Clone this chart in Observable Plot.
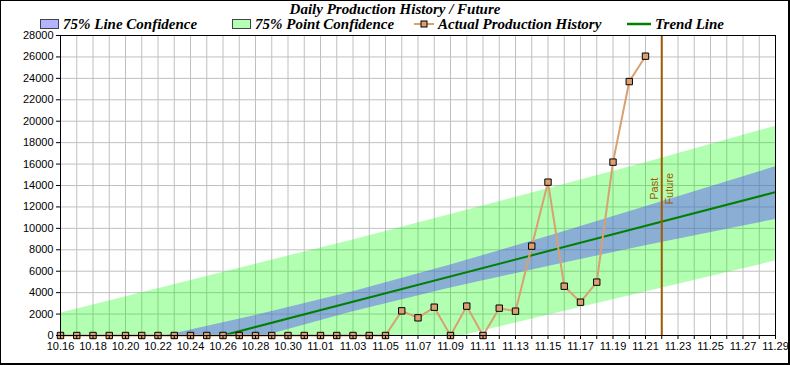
<!DOCTYPE html>
<html><head><meta charset="utf-8">
<script src="https://cdn.jsdelivr.net/npm/d3@7"></script>
<script src="https://cdn.jsdelivr.net/npm/@observablehq/plot@0.6"></script>
<style>
body{margin:0;background:#fff;}
#wrap{position:relative;width:790px;height:365px;overflow:hidden;background:#fff;}
#border{position:absolute;left:0;top:0;width:790px;height:365px;box-sizing:border-box;border:1px solid #000;border-right-width:2px;border-bottom-width:2px;pointer-events:none;}
#head{height:30px;position:relative;}
#title{position:absolute;left:0;width:790px;top:1px;text-align:center;font:italic bold 15px "Liberation Serif";white-space:nowrap;}
.leg{position:absolute;top:15px;height:18px;font:italic bold 15px "Liberation Sans Narrow";display:flex;align-items:center;white-space:nowrap;}
.sw{width:19px;height:10px;border:1px solid #444;margin-right:4px;box-sizing:border-box;}
.leg svg{margin-right:4px;}
</style></head>
<body>
<div id="wrap">
  <div id="head"></div>
  <div id="chart"></div>
  <div id="border"></div>
</div>
<script>
// ---------- data ----------
const year = 2023;
const chartTitle = "Daily Production History / Future";
const legendLabels = ["75% Line Confidence", "75% Point Confidence", "Actual Production History", "Trend Line"];
const productionDates = ["10.16","10.17","10.18","10.19","10.20","10.21","10.22","10.23","10.24","10.25","10.26","10.27","10.28","10.29","10.30","10.31",
  "11.01","11.02","11.03","11.04","11.05","11.06","11.07","11.08","11.09","11.10","11.11","11.12","11.13","11.14","11.15","11.16","11.17","11.18","11.19","11.20","11.21"];
const production = [0,0,0,0,0,0,0,0,0,0,0,0,0,0,0,0,
  0,0,0,0,0,2300,1650,2640,0,2740,0,2550,2270,8340,14310,4600,3110,4980,16180,23700,26070];
const bandDates = ["10.16","10.22","10.28","11.03","11.09","11.15","11.21","11.29"];
const lineConfLow  = [-5750,-2970,-280,2210,4430,6450,8380,10830];
const lineConfHigh = [-2100,-170,1860,4080,6570,9250,12020,15750];
const pointConfLow  = [-9900,-7420,-4990,-2600,-290,1890,4070,6950];
const pointConfHigh = [2080,4370,6660,8920,11300,13690,16130,19530];
const trendDates = ["10.16","11.29"];
const trendValues = [-3925,13380];
const dividerDate = "11.22";
const dividerLabels = ["Past","Future"];
const dividerLabelValue = 13700;
const axisStart = "10.16", axisEnd = "11.29";
const yTicks = [0,2000,4000,6000,8000,10000,12000,14000,16000,18000,20000,22000,24000,26000,28000];

// ---------- helpers ----------
const parse = s => { const [m, d] = s.split(".").map(Number); return new Date(Date.UTC(year, m - 1, d)); };
const fmt = d3.utcFormat("%m.%d");
const start = parse(axisStart), end = parse(axisEnd);
const allDays = d3.utcDay.range(start, d3.utcDay.offset(end, 1));
const labelDays = allDays.filter((d, i) => i % 2 === 0);

const prod = productionDates.map((s, i) => ({date: parse(s), value: production[i]}));
const bands = bandDates.map((s, i) => ({date: parse(s), lLow: lineConfLow[i], lHigh: lineConfHigh[i], pLow: pointConfLow[i], pHigh: pointConfHigh[i]}));
const trend = trendDates.map((s, i) => ({date: parse(s), value: trendValues[i]}));
const divider = parse(dividerDate);

// ---------- header ----------
const head = document.getElementById("head");
head.innerHTML = `<div id="title">${chartTitle}</div>
<div class="leg" style="left:40px"><div class="sw" style="background:#b3b3ff"></div>${legendLabels[0]}</div>
<div class="leg" style="left:232px"><div class="sw" style="background:#b3ffb3"></div>${legendLabels[1]}</div>
<div class="leg" style="left:414px"><svg width="20" height="10"><line x1="0" x2="20" y1="5" y2="5" stroke="#d9a070" stroke-width="2"/><rect x="7" y="2" width="6" height="6" fill="#dca070" stroke="#000"/></svg>${legendLabels[2]}</div>
<div class="leg" style="left:627px"><svg width="24" height="10"><line x1="0" x2="24" y1="5" y2="5" stroke="#008000" stroke-width="2.5"/></svg>${legendLabels[3]}</div>`;

// ---------- chart ----------
const chart = Plot.plot({
  width: 790,
  height: 335,
  marginTop: 5,
  marginBottom: 30,
  marginLeft: 60,
  marginRight: 15,
  style: {fontFamily: "Liberation Sans", fontSize: "11px", background: "transparent", color: "#000"},
  x: {type: "utc", domain: [start, end]},
  y: {domain: [0, 28000]},
  marks: [
    Plot.gridX(allDays, {stroke: "#c0c0c0", strokeOpacity: 1}),
    Plot.gridY(yTicks, {stroke: "#c0c0c0", strokeOpacity: 1}),
    Plot.areaY(bands, {x: "date", y1: "pLow", y2: "pHigh", fill: "#00ff00", fillOpacity: 0.3, clip: true}),
    Plot.areaY(bands, {x: "date", y1: "lLow", y2: "lHigh", fill: "#5a4cff", fillOpacity: 0.45, clip: true}),
    Plot.line(trend, {x: "date", y: "value", stroke: "#008000", strokeWidth: 2, clip: true}),
    Plot.ruleX([divider], {stroke: "#a05a00", strokeWidth: 2}),
    Plot.text([dividerLabels[0]], {x: () => divider, y: () => dividerLabelValue, text: d => d, rotate: -90, textAnchor: "middle", dx: -7, fill: "#a05a00", fontSize: 11}),
    Plot.text([dividerLabels[1]], {x: () => divider, y: () => dividerLabelValue, text: d => d, rotate: -90, textAnchor: "middle", dx: 8, fill: "#a05a00", fontSize: 11}),
    Plot.line(prod, {x: "date", y: "value", stroke: "#d9a070", strokeWidth: 2}),
    Plot.dot(prod, {x: "date", y: "value", symbol: "square", r: 3.6, fill: "#dca070", stroke: "#000", strokeWidth: 1}),
    Plot.frame({stroke: "#000"}),
    Plot.axisX(allDays, {tickSize: 4, tickPadding: 3, tickFormat: d => labelDays.some(l => +l === +d) ? fmt(d) : "", fontSize: 11}),
    Plot.axisY(yTicks, {tickSize: 4, tickPadding: 3, tickFormat: d => String(d), fontSize: 11})
  ]
});
document.getElementById("chart").appendChild(chart);
</script>
</body></html>
